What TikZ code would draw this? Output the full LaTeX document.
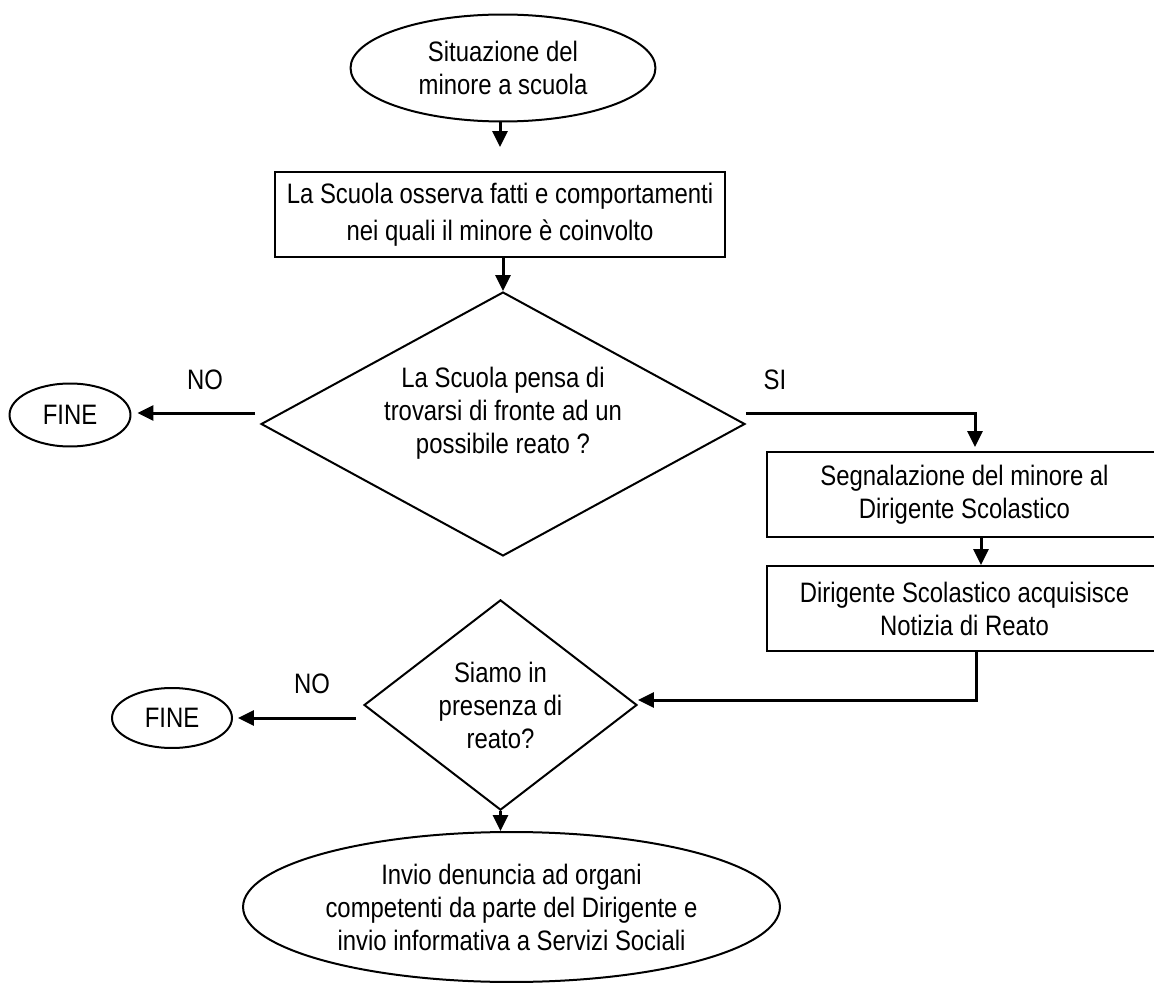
\documentclass[tikz,border=0pt]{standalone}
\usepackage{fontspec}
\setmainfont{Liberation Sans}[FakeStretch=0.85]
\usetikzlibrary{shapes.geometric,arrows.meta}
\tikzset{>={Triangle[length=0.32cm,width=0.3cm]}}
\tikzset{
	txt/.style={inner sep=0pt, align=center, font=\fontsize{16}{18.8}\selectfont},
	blk/.style={txt, draw, line width=0.04cm},
	box/.style={blk, rectangle},
	oval/.style={blk, ellipse},
	choice/.style={blk, diamond},
	link/.style={->, line width=0.06cm}
}

\begin{document}
\begin{tikzpicture}[x=0.02cm,y=-0.02cm]
\useasboundingbox (0,0) rectangle (1154,983);

% blocchi
\node[oval, minimum width=6.1cm, minimum height=2.14cm] (start) at (503,68) {Situazione del\\minore a scuola};
\node[box, minimum width=9cm, minimum height=1.7cm, font=\fontsize{16}{21.3}\selectfont] (osserva) at (500,214.5) {La Scuola osserva fatti e comportamenti\\nei quali il minore è coinvolto};
\node[choice, minimum width=9.68cm, minimum height=5.28cm] (reato1) at (503,424) {};
\node[txt] (reato1txt) at (503,413) {La Scuola pensa di\\trovarsi di fronte ad un\\possibile reato ?};
\node[oval, minimum width=2.42cm, minimum height=1.26cm] (fine1) at (70,415) {FINE};
\node[box, minimum width=7.9cm, minimum height=1.7cm] (segnala) at (964.5,494.5) {Segnalazione del minore al\\Dirigente Scolastico};
\node[box, minimum width=7.9cm, minimum height=1.7cm] (dirigente) at (964.5,608.5) {Dirigente Scolastico acquisisce\\Notizia di Reato};
\node[choice, minimum width=5.46cm, minimum height=4.2cm] (reato2) at (500.5,705) {Siamo in\\presenza di\\reato?};
\node[oval, minimum width=2.4cm, minimum height=1.2cm] (fine2) at (172,718) {FINE};
\node[oval, minimum width=10.74cm, minimum height=3cm] (invio) at (511.5,907) {Invio denuncia ad organi\\competenti da parte del Dirigente e\\invio informativa a Servizi Sociali};

\node[txt] (no1) at (205,380) {NO};
\node[txt] (si) at (775,380) {SI};
\node[txt] (no2) at (312,684) {NO};

% frecce
\draw[link, shorten >=0.48cm] (osserva.north |- start.south) -- (osserva.north);
\draw[link] (reato1.north |- osserva.south) -- (reato1.north);
\draw[link, shorten <=0.1cm, shorten >=0.12cm] ([yshift=0.22cm]reato1.west) -- ([yshift=0.22cm]reato1.west -| fine1.east);
\draw[link, shorten >=0.08cm] ([yshift=0.22cm]reato1.east) -| ([xshift=0.21cm]segnala.north);
\draw[link] ([xshift=0.33cm]segnala.south) -- ([xshift=0.33cm]dirigente.north);
\draw[link] ([xshift=0.23cm]dirigente.south) |- ([yshift=0.1cm]reato2.east);
\draw[link, shorten <=0.14cm, shorten >=0.1cm] (reato2.west |- fine2.east) -- (fine2.east);
\draw[link] (reato2.south) -- (reato2.south |- invio.north);
\end{tikzpicture}
\end{document}
